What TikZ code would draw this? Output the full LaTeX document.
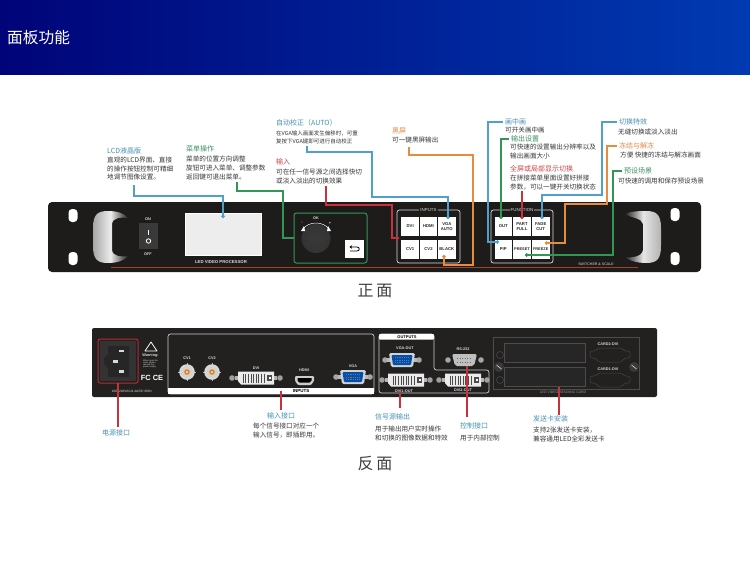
\documentclass[tikz,border=0pt]{standalone}
\usepackage{fontspec}
\setmainfont{Noto Sans CJK SC}
\newfontfamily\latinbold{Liberation Sans}[BoldFont={Liberation Sans Bold}]
\usetikzlibrary{arrows.meta,calc}
\definecolor{hdrL}{RGB}{0,4,120}
\definecolor{hdrR}{RGB}{0,58,178}
\definecolor{panel}{RGB}{30,27,27}
\definecolor{panelB}{RGB}{35,32,32}
\definecolor{wblue}{RGB}{80,160,205}
\definecolor{wgreen}{RGB}{50,150,85}
\definecolor{wred}{RGB}{200,50,60}
\definecolor{worange}{RGB}{230,140,60}
\definecolor{tblue}{RGB}{70,145,180}
\definecolor{tgreen}{RGB}{60,145,95}
\definecolor{tred}{RGB}{205,70,75}
\definecolor{torange}{RGB}{225,140,70}
\definecolor{body}{RGB}{55,55,55}
\newcommand{\fsz}[1]{\fontsize{#1}{#1}\selectfont}
\tikzset{
  x=1pt,y=-1pt,
  txt/.style={anchor=west,inner sep=0pt,text=body,font=\fsz{6.6}},
  tiny/.style={txt,font=\fsz{5.5}},
  ttl/.style={anchor=west,inner sep=0pt,font=\fsz{7}},
  wire/.style={line width=1.4pt,-{Circle[length=3.4pt]}},
  plain/.style={line width=1.4pt},
  btn/.style={draw=none,fill=white,minimum width=17.6pt,minimum height=19pt,inner sep=0pt,align=center,font=\latinbold\bfseries\fsz{4.2},text=black!85},
  frm/.style={draw=white!85!black,rounded corners=2.5pt,line width=.7pt},
  flabel/.style={fill=panel,inner sep=1pt,text=white!85!black,font=\latinbold\fsz{4.4}},
  plabel/.style={inner sep=0pt,text=white!85!black,font=\latinbold\bfseries\fsz{3.8}},
  hole/.style={fill=white,rounded corners=3.6pt},
  pdvi/.pic={
    \fill[gray!75] (-24,0) circle (2.8) (24,0) circle (2.8);
    \fill[gray!60] (-21,-2) rectangle (21,2);
    \fill[white!92!black] (-18,-6.5) -- (18,-6.5) -- (18,6.5) -- (-15,6.5) -- (-18,3) -- cycle;
    \draw[black!70,line width=.3pt,step=2.6] (-15.6,-4.5) grid (7.8,4.5);
    \fill[black!70] (11,-3) rectangle (16,3);
    \fill[white] (12.5,-1.2) rectangle (14.5,1.2);
  },
  pvga/.pic={
    \fill[gray!70] (-17,0) circle (2.8) (17,0) circle (2.8);
    \fill[gray!55] (-15,-2) rectangle (15,2);
    \fill[gray!35,rounded corners=1.5pt] (-13,-7) -- (13,-7) -- (11,7) -- (-11,7) -- cycle;
    \fill[blue!55!cyan!70!black,rounded corners=1pt] (-10.5,-5) -- (10.5,-5) -- (9,5) -- (-9,5) -- cycle;
    \foreach \yy in {-2.5,0,2.5} \draw[black!55,line width=.8pt,dash pattern=on .8pt off 1pt] (-7,\yy) -- (7,\yy);
  },
  pbnc/.pic={
    \fill[gray!55] (-.5,-9.2) rectangle (.5,9.2);
    \fill[gray!55] (-9.2,-.5) rectangle (9.2,.5);
    \fill[white!85!black] (0,0) circle (7.8);
    \fill[gray!35] (0,0) circle (5.8);
    \fill[orange!55!brown] (0,0) circle (2.8);
    \fill[white] (0,0) circle (1);
  },
}
\begin{document}
\begin{tikzpicture}
\useasboundingbox (0,0) rectangle (750,587);
\fill[white] (0,0) rectangle (750,587);
% header
\shade[left color=hdrL,right color=hdrR] (0,0) rectangle (750,74);
\node[anchor=west,inner sep=0pt,text=white,font=\fsz{15.7}] (title) at (7,38) {面板功能};

% ---- front panel
\fill[panel,rounded corners=4pt] (48,202) rectangle (701,272);
\draw[brown!70!red!75!black,line width=.6pt] (111,267) -- (638,267);
\fill[hole] (68.5,209) rectangle (77.5,222);
\fill[hole] (68.5,252) rectangle (77.5,265);
\fill[hole] (670.5,208) rectangle (679.5,221);
\fill[hole] (670.5,252) rectangle (679.5,265);
% handles
\shade[left color=gray!70,right color=gray!25!black,middle color=white!85!gray]
  (93,228) .. controls (93,214) and (98,211) .. (108,211) .. controls (118,211) and (125,214) .. (128,218)
  .. controls (122,217) and (113,217) .. (112,224) -- (112,250) .. controls (113,257) and (122,257) .. (128,256)
  .. controls (125,260) and (118,263) .. (108,263) .. controls (98,263) and (93,260) .. (93,246) -- cycle;
\shade[left color=gray!25!black,right color=gray!60,middle color=white!80!gray]
  (661,228) .. controls (661,214) and (656,211) .. (646,211) .. controls (636,211) and (628,212) .. (625,214)
  .. controls (631,218) and (642,218) .. (643,224) -- (643,250) .. controls (642,257) and (631,258) .. (625,257)
  .. controls (628,260) and (636,263) .. (646,263) .. controls (656,263) and (661,260) .. (661,246) -- cycle;
% switch
\fill[gray!45!black] (139,223) rectangle (158,249);
\fill[white] (148,230) rectangle (149.2,235);
\draw[white,line width=.8pt] (148.5,241) circle (2.2);
\node[plabel] (on) at (148,219) {ON};
\node[plabel] (off) at (148,254) {OFF};
% LCD
\fill[white!93!black,draw=white] (185,213) rectangle (261,255);
\node[plabel,font=\latinbold\bfseries\fsz{4.3}] (brand) at (221,262.5) {LED VIDEO PROCESSOR};
% knob group
\draw[wgreen,rounded corners=2.5pt,line width=1pt] (294,213) rectangle (367,263);
\node (knob) [circle,minimum size=29pt,inner sep=0pt,shade,inner color=gray!45!black,outer color=black!80] at (316,238.5) {};
\draw[white,line width=.5pt] (303,229) .. controls (309,221) and (323,221) .. (329,229);
\fill[white] (301,231) -- (304,226) -- (305,231) -- cycle;
\fill[white] (331,231) -- (328,226) -- (327,231) -- cycle;
\node[plabel] (oklab) at (316,218) {OK};
\node[plabel] (minus) at (302,223) {-};
\node[plabel] (plus) at (330,223) {+};
\node[draw=none,fill=white,minimum width=19pt,minimum height=18pt,inner sep=0pt] (backbtn) at (354.5,249) {};
\draw[black,line width=.8pt,{Stealth[length=2.5pt,width=3.5pt]}-] (349.5,247) -- (357,247) .. controls (360,247) and (360,251) .. (357,251) -- (350,251);
% input group
\draw[frm] (397,210) rectangle (460,263);
\node[flabel] (inputs) at (428.5,210) {INPUTS};
\node[btn] (dvi) at (410.2,226.5) {DVI};
\node[btn] (hdmi) at (428.5,226.5) {HDMI};
\node[btn] (vga) at (446.8,226.5) {VGA\\[1pt]AUTO};
\node[btn] (cvone) at (410.2,249.5) {CV1};
\node[btn] (cvtwo) at (428.5,249.5) {CV2};
\node[btn] (blackbtn) at (446.8,249.5) {BLACK};
% function group
\draw[frm] (491,210) rectangle (553,263);
\node[flabel] (function) at (522,210) {FUNCTION};
\node[btn] (out) at (503.3,226.5) {OUT};
\node[btn] (part) at (522,226.5) {PART\\[1pt]FULL};
\node[btn] (fade) at (540.7,226.5) {FADE\\[1pt]CUT};
\node[btn] (pip) at (503.3,249.5) {PIP};
\node[btn,font=\latinbold\bfseries\fsz{3.9}] (preset) at (522,249.5) {PRESET};
\node[btn,font=\latinbold\bfseries\fsz{3.9}] (freeze) at (540.7,249.5) {FREEZE};
\node[plabel,font=\latinbold\fsz{3.6}] (switcher) at (596,264) {SWITCHER \& SCALE};

% front labels
\node[ttl,text=tblue] (lcdT) at (107,151) {LCD液晶版};
\node[txt] (lcdA) at (107,160) {直观的LCD界面、直接};
\node[txt] (lcdB) at (107,168.5) {的操作按钮控制可精细};
\node[txt] (lcdC) at (107,177) {地调节图像设置。};
\node[ttl,text=tgreen] (menuT) at (186,149) {菜单操作};
\node[txt] (menuA) at (186,158.5) {菜单的位置方向调整};
\node[txt] (menuB) at (186,167.5) {旋钮可进入菜单、调整参数};
\node[txt] (menuC) at (186,176.5) {返回键可退出菜单。};
\node[ttl,text=tblue] (autoT) at (276,123) {自动校正（AUTO）};
\node[tiny] (autoA) at (276,133) {在VGA输入画面发生偏移时，可重};
\node[tiny] (autoB) at (276,141) {复按下VGA键即可进行自动校正};
\node[ttl,text=tred] (inT) at (276,162) {输入};
\node[txt] (inA) at (276,172) {可在任一信号源之间选择快切};
\node[txt] (inB) at (276,181) {或淡入淡出的切换效果};
\node[ttl,text=torange] (blkT) at (392,131) {黑屏};
\node[txt] (blkA) at (392,139.5) {可一键黑屏输出};
\node[ttl,text=tblue] (pipT) at (505,122) {画中画};
\node[txt] (pipA) at (505,130) {可开关画中画};
\node[ttl,text=tgreen] (outT) at (511,139) {输出设置};
\node[txt] (outA) at (510,146.5) {可快速的设置输出分辨率以及};
\node[txt] (outB) at (510,155.5) {输出画面大小};
\node[ttl,text=tred] (fullT) at (510,168.5) {全屏或局部显示切换};
\node[txt] (fullA) at (510,178) {在拼接菜单里面设置好拼接};
\node[txt] (fullB) at (510,187) {参数，可以一键开关切换状态};
\node[ttl,text=tblue] (fxT) at (619,122) {切换特效};
\node[txt] (fxA) at (618,132) {无缝切换或淡入淡出};
\node[ttl,text=torange] (frzT) at (619,146) {冻结与解冻};
\node[txt] (frzA) at (620,155) {方便 快捷的冻结与解冻画面};
\node[ttl,text=tgreen] (preT) at (624,171) {预设场景};
\node[txt] (preA) at (618,181) {可快速的调用和保存预设场景};
\node[anchor=center,inner sep=0pt,text=black!75,font=\fsz{16}] (front) at (375,291) {正\hspace{3pt}面};

% front connectors
\coordinate (lcdS) at (134,185);
\coordinate (lcdE) at (223,218);
\draw[wire,wblue] (lcdS) -- (134,196) -- (223,196) -- (lcdE);
\coordinate (menuS) at (237,182);
\coordinate (menuE) at (294,238);
\draw[plain,wgreen] (menuS) -- (237,191) -- (283,191) -- (283,238) -- (menuE);
\coordinate (inS) at (326,186);
\draw[wire,wred] (inS) -- (326,205) -- (392,205) -- (392,238) -- (399,238);
\coordinate (autoS) at (307,146);
\draw[wire,wblue] (autoS) -- (307,152) -- (372,152) -- (372,197) -- (448,197) -- (448,219);
\coordinate (blkS) at (409,147);
\draw[wire,worange] (blkS) -- (409,155) -- (473,155) -- (473,265) -- (444,265) -- (444,255);
\draw[wire,wblue] ($(pipT.west)+(-2.5,0)$) -- (488,122) -- (488,242) -- (499,242);
\draw[wire,wgreen] ($(outT.west)+(-2,0)$) -- (501,139) -- (501,219);
\coordinate (fullS) at (522,191);
\draw[wire,wred] (fullS) -- (522,219);
\draw[wire,wblue] ($(fxT.west)+(-2.5,0)$) -- (602,122) -- (602,195) -- (542,195) -- (542,219);
\draw[wire,worange] ($(frzT.west)+(-2,0)$) -- (607,146) -- (607,204) -- (565,204) -- (565,243) -- (545,243);
\draw[wire,wgreen] ($(preT.west)+(-2.5,0)$) -- (613,171) -- (613,255) -- (525,255);

% ---- back panel
\fill[panelB,rounded corners=2pt] (92,328) rectangle (657,397);
% power
\fill[gray!40!black] (100,341) rectangle (136,381);
\draw[wred!90!black,rounded corners=2pt,line width=1pt] (98,339) rectangle (138,383);
\fill[black!85] (108,346) -- (129,346) -- (129,377) -- (108,377) -- (108,368) -- (104,364) -- (104,358) -- (108,354) -- cycle;
\fill[white!85!black] (119,349.5) rectangle (124,352);
\fill[white!85!black] (113,360) rectangle (118,362.5);
\fill[white!85!black] (119,370) rectangle (124,372.5);
\draw[white,line width=.8pt,line join=round] (151,342) -- (157,351) -- (145,351) -- cycle;
\node[plabel,font=\latinbold\bfseries\fsz{3.8}] (warn) at (150.5,355.5) {Warning:};
\node[plabel,align=left,font=\latinbold\fsz{2.2}] (warnB) at (150.5,364) {When open the\\cover please\\remove the\\power supply};
\node[plabel,text=white,font=\latinbold\bfseries\fsz{7.5}] (fcce) at (152,378) {FC CE};
\node[plabel,font=\latinbold\fsz{3.2}] (volt) at (132,391) {100\textasciitilde 240VAC/4.4A/50\textasciitilde 60Hz};
% inputs frame
\draw[frm,draw=white!80!black] (168,334) rectangle (374,394);
\fill[white] (168,388) rectangle (374,394);
\node[plabel,text=black,font=\latinbold\bfseries\fsz{4.5}] (inputsB) at (301,391) {INPUTS};
\pic at (187,372) {pbnc};
\pic at (212,372) {pbnc};
\pic at (256,378) {pdvi};
\fill[white!80!black,rounded corners=1pt] (295,376) -- (314,376) -- (314,381) -- (311,385) -- (298,385) -- (295,381) -- cycle;
\fill[black] (297.5,378) -- (311.5,378) -- (311.5,380.5) -- (309.5,382.5) -- (299.5,382.5) -- (297.5,380.5) -- cycle;
\pic at (353,377) {pvga};
\node[plabel] (cvoneB) at (187,358) {CV1};
\node[plabel] (cvtwoB) at (212,358) {CV2};
\node[plabel] (dviB) at (256,368) {DVI};
\node[plabel] (hdmiB) at (304,370) {HDMI};
\node[plabel] (vgaB) at (353,366) {VGA};
% outputs
\draw[frm,draw=white!80!black] (379,334) -- (434,334) -- (434,370) -- (489,370) -- (489,393) -- (379,393) -- cycle;
\fill[white,rounded corners=1pt] (379,334) rectangle (434,339.5);
\node[plabel,text=black,font=\latinbold\bfseries\fsz{4}] (outputs) at (407,337) {OUTPUTS};
\pic at (402,360) {pvga};
\pic at (406,380) {pdvi};
\pic at (463,380) {pdvi};
\fill[gray!70] (448,360) circle (2.8) (481,360) circle (2.8);
\fill[gray!50,rounded corners=2pt] (452,354) -- (477,354) -- (474,366) -- (455,366) -- cycle;
\foreach \yy in {358.5,362} \draw[black!60,line width=.8pt,dash pattern=on 1pt off 1.5pt] (457,\yy) -- (472,\yy);
\node[plabel] (vgaO) at (405,348) {VGA-OUT};
\node[plabel] (dvioO) at (404,391) {DVI1-OUT};
\node[plabel] (rs) at (463,349) {RS-232};
\node[plabel] (dvitO) at (463,390) {DVI2-OUT};
% sending card
\draw[gray!60!black,line width=.5pt] (493,337) rectangle (639,389);
\draw[gray!60!black,line width=.6pt,fill=black!85] (504,343) rectangle (585,362);
\draw[gray!60!black,line width=.6pt,fill=black!85] (504,367) rectangle (585,386);
\foreach \yy in {355,380} {
  \draw[gray!55!black,line width=.5pt,rounded corners=2pt] (590,\yy-4) -- (596,\yy-4) -- (598,\yy-7) -- (622,\yy-7) -- (624,\yy-4) -- (630,\yy-4) -- (630,\yy+3) -- (624,\yy+3) -- (622,\yy+7) -- (598,\yy+7) -- (596,\yy+3) -- (590,\yy+3) -- cycle;
  \draw[gray!55!black,line width=.6pt] (500,\yy) circle (3.5);
}
\foreach \xx in {499,634} {
  \fill[gray!45!black] (\xx,367) circle (5);
  \draw[white!80!black,line width=.7pt] (\xx-2.5,365) -- (\xx+2.5,369);
}
\node[plabel] (cardtwo) at (608,344.5) {CARD2-DVI};
\node[plabel] (cardone) at (608,369.5) {CARD1-DVI};
\node[plabel,text=gray!80,font=\latinbold\fsz{3.5}] (cardL) at (563,392) {LED VIDEO SENDING CARD};

% back labels
\node[ttl,text=tblue] (pwrT) at (102,433) {电源接口};
\node[ttl,text=tblue] (iT) at (267,416) {输入接口};
\node[txt] (iA) at (253,426) {每个信号接口对应一个};
\node[txt] (iB) at (253,435) {输入信号，即插即用。};
\node[ttl,text=tblue] (sT) at (375,416.5) {信号源输出};
\node[txt] (sA) at (375,429) {用于输出用户实时操作};
\node[txt] (sB) at (375,438) {和切换的图像数据和特效};
\node[ttl,text=tblue] (cT) at (460,426) {控制接口};
\node[txt] (cA) at (460,438) {用于内部控制};
\node[ttl,text=tblue] (sdT) at (533,418.5) {发送卡安装};
\node[txt] (sdA) at (533,430) {支持2张发送卡安装，};
\node[txt] (sdB) at (533,438.5) {兼容通用LED全彩发送卡};
\node[anchor=center,inner sep=0pt,text=black!75,font=\fsz{16}] (rear) at (375,464) {反\hspace{3pt}面};

% back connectors
\coordinate (pwrE) at (118,427);
\coordinate (pwrS) at (118,383);
\draw[plain,wred] (pwrS) -- (pwrE);
\coordinate (iS) at (281,391);
\coordinate (iE) at (281,410);
\draw[plain,wred] (iS) -- (iE);
\coordinate (sS) at (400,393);
\coordinate (sE) at (400,408);
\draw[plain,wred] (sS) -- (sE);
\coordinate (cS) at (467,366);
\coordinate (cE) at (467,417);
\draw[plain,wred] (cS) -- (cE);
\coordinate (sdS) at (559,387);
\coordinate (sdE) at (559,415);
\draw[plain,wred] (sdS) -- (sdE);
\end{tikzpicture}
\end{document}
